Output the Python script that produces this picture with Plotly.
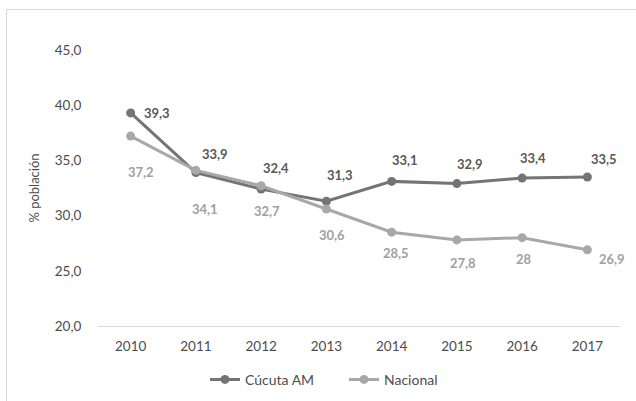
import plotly.graph_objects as go

years = [2010, 2011, 2012, 2013, 2014, 2015, 2016, 2017]
cucuta = [39.3, 33.9, 32.4, 31.3, 33.1, 32.9, 33.4, 33.5]
nacional = [37.2, 34.1, 32.7, 30.6, 28.5, 27.8, 28, 26.9]

# label offsets in pixels (dx, dy with dy positive = down)
cuc_off = [(26, 0), (19, -19), (15, -21), (14, -26), (13, -21), (13, -20), (11, -20), (17, -18)]
nac_off = [(10, 36), (9, 39), (6, 25), (6, 26), (4, 21), (6, 23), (2, 21), (25, 9)]

FONT = "Lato"
C_CUC = "#747474"
C_NAC = "#a8a8a8"
C_CUC_TXT = "#595959"
C_NAC_TXT = "#a0a0a0"


def fmt(v):
    return str(v).replace(".", ",")


fig = go.Figure()
fig.add_trace(go.Scatter(x=years, y=cucuta, name="Cúcuta AM", mode="lines+markers",
                         line=dict(color=C_CUC, width=3), marker=dict(size=9, color=C_CUC)))
fig.add_trace(go.Scatter(x=years, y=nacional, name="Nacional", mode="lines+markers",
                         line=dict(color=C_NAC, width=3), marker=dict(size=9, color=C_NAC)))

ann = []
for yr, v, (dx, dy) in zip(years, cucuta, cuc_off):
    ann.append(dict(x=yr, y=v, text="<b>" + fmt(v) + "</b>", showarrow=False,
                    xshift=dx, yshift=-dy, font=dict(family=FONT, size=13, color=C_CUC_TXT)))
for yr, v, (dx, dy) in zip(years, nacional, nac_off):
    ann.append(dict(x=yr, y=v, text="<b>" + fmt(v) + "</b>", showarrow=False,
                    xshift=dx, yshift=-dy, font=dict(family=FONT, size=13, color=C_NAC_TXT)))

fig.update_layout(
    width=636, height=401,
    margin=dict(l=98, r=16, t=50, b=75, autoexpand=False),
    paper_bgcolor="white", plot_bgcolor="white",
    font=dict(family=FONT, size=13, color="#4d4d4d"),
    separators=",.",
    annotations=ann,
    showlegend=True,
    legend=dict(orientation="h", x=(205 - 98) / 522, xanchor="left", y=-0.195, yanchor="middle",
                font=dict(family=FONT, size=14, color="#4d4d4d"), itemwidth=30,
                entrywidth=94, entrywidthmode="pixels",
                bgcolor="rgba(0,0,0,0)"),
    shapes=[
        dict(type="line", xref="paper", yref="paper", x0=(6 - 98) / 522, x1=(700 - 98) / 522,
             y0=1 + (50 - 9.5) / 276, y1=1 + (50 - 9.5) / 276, line=dict(color="#d9d9d9", width=1)),
        dict(type="line", xref="paper", yref="paper", x0=(6.5 - 98) / 522, x1=(6.5 - 98) / 522,
             y0=1 + (50 - 9.5) / 276, y1=-1, line=dict(color="#d9d9d9", width=1)),
    ],
)
fig.update_xaxes(range=[2009.5, 2017.5], tickmode="array", tickvals=years,
                 ticktext=[str(y) for y in years],
                 showline=True, linecolor="#d9d9d9", linewidth=1,
                 showgrid=False, ticks="outside", ticklen=8, tickcolor="rgba(0,0,0,0)",
                 tickfont=dict(size=13.5, color="#4d4d4d"), zeroline=False)
fig.update_yaxes(range=[20, 45], dtick=5, tickformat=".1f", showgrid=False, zeroline=False,
                 showline=False, ticks="outside", ticklen=13, tickcolor="rgba(0,0,0,0)",
                 tickfont=dict(size=13.5, color="#4d4d4d"),
                 title=dict(text="% población", standoff=12, font=dict(size=13, color="#4d4d4d")))

fig.write_html("out.html")
